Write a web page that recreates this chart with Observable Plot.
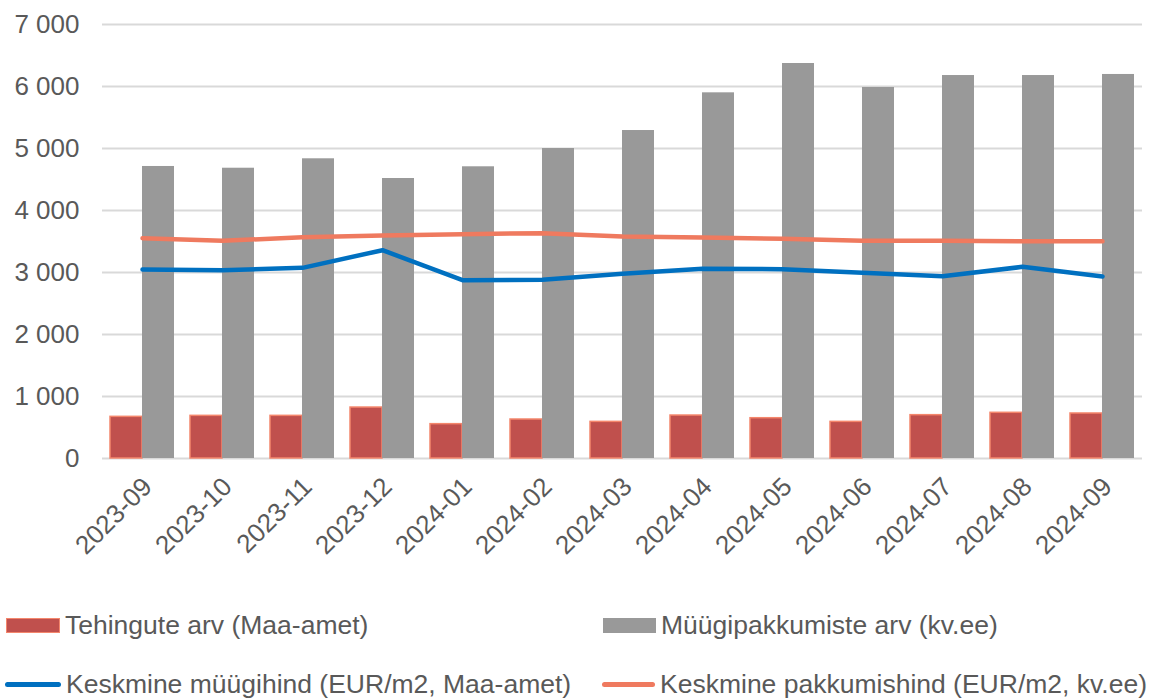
<!DOCTYPE html>
<html><head><meta charset="utf-8">
<script src="https://cdn.jsdelivr.net/npm/d3@7"></script>
<script src="https://cdn.jsdelivr.net/npm/@observablehq/plot@0.6"></script>
<style>
body{margin:0;background:#fff;font-family:"Liberation Sans",Arial,sans-serif;}
#wrap{position:relative;width:1154px;height:699px;overflow:hidden}
.leg{position:absolute;font-size:26.5px;color:#595959;white-space:nowrap;height:30px;line-height:30px;display:flex;align-items:center}
.sw{display:inline-block;margin-right:5px;box-sizing:border-box}
</style></head><body><div id="wrap"><div id="chart"></div></div>
<script>
const months = ["2023-09","2023-10","2023-11","2023-12","2024-01","2024-02","2024-03","2024-04","2024-05","2024-06","2024-07","2024-08","2024-09"];
const tehingud = [672,688,688,822,554,629,591,693,650,591,699,737,726];
const pakkumised = [4710,4682,4834,4516,4705,5000,5290,5898,6371,5984,6177,6177,6194];
const muugihind = [3048,3038,3075,3360,2876,2882,2978,3059,3054,2995,2941,3091,2935];
const pakkumishind = [3553,3511,3570,3597,3618,3634,3581,3565,3543,3511,3511,3505,3505];
const yTicks = [0,1000,2000,3000,4000,5000,6000,7000];
const legendLabels = ["Tehingute arv (Maa-amet)","Müügipakkumiste arv (kv.ee)","Keskmine müügihind (EUR/m2, Maa-amet)","Keskmine pakkumishind (EUR/m2, kv.ee)"];

const data = months.map((m,i)=>({month:m, tehingud:tehingud[i], pakkumised:pakkumised[i], muugihind:muugihind[i], pakkumishind:pakkumishind[i]}));
const fmt = v => d3.format(",")(v).replace(/,/g, "\u00a0");

const W = 1154, ML = 102, MR = 12, pi = 0.2, po = 0.1;
const step = (W - ML - MR) / (months.length - pi + 2*po);
const half = step * (1 - pi) / 2;

const chart = Plot.plot({
  width: W, height: 575,
  marginLeft: ML, marginRight: MR, marginTop: 24, marginBottom: 117,
  style: {fontFamily: '"Liberation Sans", Arial, sans-serif', color: "#595959", background: "#fff"},
  x: {domain: months, paddingInner: pi, paddingOuter: po, label: null},
  y: {domain: [0, 7000], label: null},
  marks: [
    Plot.gridY(yTicks, {stroke: "#d9d9d9", strokeOpacity: 1, strokeWidth: 2}),
    Plot.barY(data, {x: "month", y: "tehingud", fill: "#c0504d", stroke: "#f4866c", strokeWidth: 1.5, insetRight: half}),
    Plot.barY(data, {x: "month", y: "pakkumised", fill: "#999999", insetLeft: half}),
    Plot.line(data, {x: "month", y: "pakkumishind", stroke: "#ef7a5f", strokeWidth: 4.5, strokeLinecap: "round", strokeLinejoin: "round"}),
    Plot.line(data, {x: "month", y: "muugihind", stroke: "#0070c0", strokeWidth: 4.5, strokeLinecap: "round", strokeLinejoin: "round"}),
    Plot.axisY(yTicks, {tickSize: 0, tickPadding: 23, fontSize: 26, tickFormat: fmt, label: null}),
    Plot.axisX({tickSize: 0, tickRotate: -45, tickPadding: 14, dx: 5, dy: 10, fontSize: 26, label: null})
  ]
});
document.getElementById("chart").appendChild(chart);

const wrap = document.getElementById("wrap");
function addLegend(x, y, swStyle, text) {
  const d = document.createElement("div");
  d.className = "leg";
  d.style.left = x + "px"; d.style.top = y + "px";
  const s = document.createElement("span");
  s.className = "sw";
  Object.assign(s.style, swStyle);
  d.appendChild(s);
  d.appendChild(document.createTextNode(text));
  wrap.appendChild(d);
}
addLegend(6, 610, {width:"54px", height:"15px", background:"#c0504d", border:"1.5px solid #f4866c"}, legendLabels[0]);
addLegend(603, 610, {width:"53px", height:"15px", background:"#999999"}, legendLabels[1]);
addLegend(5, 669, {width:"56px", height:"5px", background:"#0070c0", borderRadius:"3px"}, legendLabels[2]);
addLegend(602, 669, {width:"53px", height:"5px", background:"#ef7a5f", borderRadius:"3px"}, legendLabels[3]);
</script>
</body></html>
